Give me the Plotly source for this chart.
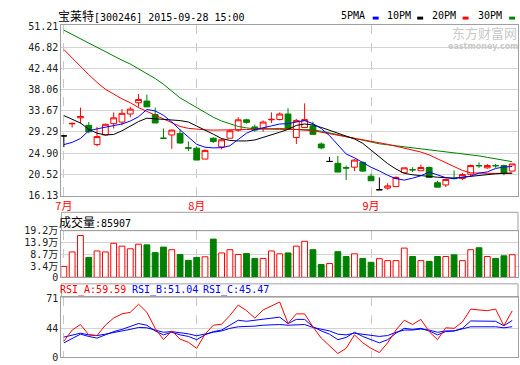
import plotly.graph_objects as go

# ---------------- data ----------------
stock_name = "宝莱特"
stock_code = "300246"
stamp = "2015-09-28 15:00"

month_idx = [0, 16, 37]
month_labels = ["7月", "8月", "9月"]

opens = [28.46, 30.95, 32.20, 30.66, 26.66, 28.66, 31.00, 31.33, 33.00, 35.33,
         35.67, 32.87, 28.00, 28.66, 28.98, 26.02, 25.92, 23.66, 27.98, 26.18,
         27.98, 29.66, 31.79, 30.32, 29.99, 31.80, 31.86, 32.99, 28.12, 30.19,
         30.52, 26.78, 23.17, 22.78, 21.90, 21.98, 22.98, 20.11, 17.31, 17.65,
         17.97, 20.85, 21.47, 21.25, 21.92, 18.77, 18.31, 19.68, 19.65, 20.51,
         22.33, 21.85, 22.33, 22.32, 21.18]
highs = [28.46, 31.20, 34.33, 31.33, 30.32, 31.00, 33.33, 34.00, 34.47, 37.13,
         37.00, 34.33, 30.00, 29.80, 29.80, 27.32, 26.32, 25.66, 28.18, 27.98,
         29.80, 32.33, 31.99, 30.79, 31.66, 33.33, 33.33, 34.19, 31.99, 35.19,
         31.39, 27.12, 24.12, 24.32, 22.32, 23.65, 23.18, 20.65, 19.85, 18.65,
         20.11, 21.85, 21.98, 22.52, 22.12, 19.17, 19.65, 21.32, 20.78, 22.52,
         22.98, 22.65, 22.65, 22.52, 22.72]
lows = [26.12, 30.20, 31.00, 29.00, 26.32, 28.50, 30.00, 30.66, 32.33, 34.47,
        34.47, 31.13, 27.96, 25.78, 26.85, 25.32, 23.46, 23.66, 26.98, 25.66,
        27.98, 29.32, 31.00, 29.32, 29.32, 31.13, 31.66, 29.90, 26.78, 30.12,
        28.70, 25.66, 23.17, 20.97, 19.31, 21.17, 20.97, 19.17, 17.31, 17.31,
        17.97, 20.85, 20.97, 21.25, 19.71, 17.85, 17.85, 19.45, 19.31, 20.11,
        21.85, 21.65, 21.85, 20.31, 21.10]
closes = [28.46, 31.05, 32.47, 29.32, 28.32, 30.86, 32.20, 33.13, 34.00, 36.00,
          34.47, 31.13, 27.96, 29.66, 26.98, 25.92, 23.46, 25.46, 27.32, 27.65,
          29.52, 31.79, 31.26, 29.66, 31.33, 31.88, 32.99, 29.99, 31.67, 31.83,
          28.78, 25.98, 23.17, 20.97, 21.80, 23.45, 21.17, 19.17, 17.31, 18.11,
          19.85, 21.85, 21.43, 21.92, 19.85, 17.85, 19.45, 19.62, 20.45, 22.32,
          22.27, 22.32, 22.27, 20.78, 22.65]

ma5 = [26.66, 27.12, 27.92, 29.52, 29.92, 30.22, 30.53, 30.93, 31.53, 32.43,
       33.93, 33.63, 32.73, 31.33, 29.72, 28.12, 26.72, 26.12, 25.98, 26.02,
       26.42, 27.72, 29.02, 29.76, 30.22, 30.53, 30.93, 30.99, 31.33, 31.63,
       30.99, 29.98, 28.52, 26.72, 24.72, 23.92, 22.92, 21.97, 21.21, 20.31,
       19.61, 19.31, 19.71, 20.21, 20.97, 20.31, 19.81, 19.65, 19.81, 20.11,
       20.77, 21.01, 21.72, 22.02, 22.12]
ma10 = [32.67, 31.93, 31.13, 29.82, 29.02, 28.66, 28.76, 29.52, 30.53, 31.43,
        32.13, 32.03, 31.93, 31.83, 31.63, 31.33, 30.53, 29.72, 28.82, 27.92,
        27.52, 27.42, 27.42, 27.62, 28.12, 28.62, 29.22, 29.82, 30.63, 30.93,
        30.73, 30.22, 29.66, 29.12, 28.42, 27.82, 26.92, 25.52, 24.12, 22.72,
        21.61, 20.71, 20.41, 20.21, 20.01, 19.91, 19.81, 19.71, 19.91, 20.11,
        20.31, 20.51, 20.61, 20.71, 20.77]
ma20 = [46.34, 44.54, 42.74, 41.14, 39.54, 38.13, 37.13, 36.13, 35.33, 34.33,
        33.53, 32.73, 31.93, 31.13, 30.42, 30.02, 29.82, 29.72, 29.66, 29.66,
        29.66, 29.72, 29.78, 29.86, 29.92, 29.98, 29.98, 29.92, 29.82, 29.66,
        29.52, 29.22, 28.92, 28.62, 28.32, 28.02, 27.72, 27.42, 27.12, 26.72,
        26.32, 25.92, 25.52, 25.12, 24.52, 23.72, 22.92, 22.12, 21.31, 20.81,
        20.71, 20.71, 20.71, 20.71, 20.71]
ma30 = [50.35, 49.45, 48.65, 47.75, 46.84, 45.94, 45.04, 44.14, 43.34, 42.34,
        41.34, 40.34, 39.14, 37.73, 36.33, 35.33, 34.33, 33.33, 32.33, 31.53,
        30.93, 30.42, 30.12, 29.92, 29.92, 29.82, 29.82, 29.82, 29.82, 29.82,
        29.72, 29.42, 29.12, 28.72, 28.32, 27.92, 27.52, 27.12, 26.82, 26.62,
        26.42, 26.22, 26.02, 25.82, 25.62, 25.42, 25.22, 25.02, 24.82, 24.62,
        24.32, 24.02, 23.72, 23.42, 23.12]

volume = [34000, 98000, 170600, 73700, 102300, 98000, 136400, 123600, 112000, 132200,
          129300, 95000, 119400, 108000, 86500, 60900, 73700, 76600, 154800, 93700,
          108000, 86500, 90800, 69500, 69500, 102300, 89700, 93700, 123600, 145000,
          108000, 42500, 46800, 99300, 77900, 89700, 69500, 52400, 68200, 59700,
          59700, 115100, 77900, 59700, 56600, 77900, 77900, 85200, 59700, 108000,
          116500, 77900, 69500, 81000, 85907]

rsi_a = [32.5, 42.5, 47.4, 38.2, 37.6, 46.8, 53.2, 56.9, 58.3, 65.5,
         58.3, 44.0, 33.9, 41.7, 34.4, 31.6, 26.2, 38.8, 46.8, 47.7,
         55.5, 64.7, 59.8, 53.2, 60.4, 64.1, 67.5, 48.3, 56.9, 56.9,
         45.4, 35.3, 28.2, 21.6, 26.2, 38.2, 31.1, 26.2, 22.4, 31.1,
         42.5, 51.2, 47.4, 52.0, 41.1, 33.9, 44.5, 44.0, 49.7, 61.2,
         60.4, 59.8, 61.2, 46.3, 59.59]
rsi_b = [31.1, 35.3, 38.8, 36.8, 35.3, 38.2, 41.1, 43.1, 45.4, 48.3,
         46.8, 41.7, 38.2, 40.5, 38.2, 36.8, 33.9, 38.2, 41.1, 42.5,
         46.8, 51.2, 50.3, 51.2, 52.6, 53.5, 54.0, 48.3, 52.0, 52.0,
         45.4, 41.7, 38.8, 33.9, 35.9, 40.5, 36.8, 33.9, 31.1, 33.9,
         39.7, 44.0, 43.1, 44.0, 41.7, 38.2, 41.1, 41.7, 44.0, 50.6,
         50.6, 50.3, 50.3, 46.3, 51.04]
rsi_c = [36.2, 38.2, 39.7, 38.2, 37.6, 38.8, 40.5, 41.7, 43.1, 44.8,
         44.5, 42.5, 40.5, 41.1, 40.2, 39.1, 37.4, 39.1, 40.5, 41.7,
         44.0, 45.4, 45.4, 46.0, 46.8, 47.4, 47.4, 46.8, 47.4, 47.4,
         44.8, 43.1, 41.7, 38.8, 38.2, 39.7, 38.8, 37.6, 36.8, 37.6,
         40.5, 42.5, 42.5, 43.4, 42.5, 40.5, 41.7, 41.7, 43.4, 45.4,
         45.4, 45.4, 45.4, 44.5, 45.47]

price_ticks = [16.13, 20.52, 24.90, 29.29, 33.67, 38.06, 42.44, 46.82, 51.21]
vol_ticks = [3.4, 8.7, 13.9, 19.2]
rsi_ticks = [44, 71]

# ---------------- style ----------------
RED = "#ff0000"
GREEN = "#008000"
BLUE = "#0000ff"
FRAME = "#a0a0a0"
GRID = "#d4d4d4"
MONO = "DejaVu Sans Mono, Noto Sans CJK SC"
W, H = 520, 365


def px(v):
    return v / W


def py(v):
    return 1 - v / H


XDOM = [px(56), px(518)]
Y1DOM = [py(196), py(20)]
Y2DOM = [py(280.5), py(232.3)]
Y3DOM = [py(363), py(301)]
XR = [-0.3, 54.7]
VOL_MIN = -1.38
RSI_MIN = 18.4

n = len(closes)
idx = list(range(n))

fig = go.Figure()


def candle_group(sel, color, fill):
    xs = [i for i in idx if sel(i)]
    return go.Candlestick(
        x=xs,
        open=[opens[i] for i in xs], high=[highs[i] for i in xs],
        low=[lows[i] for i in xs], close=[closes[i] for i in xs],
        increasing=dict(line=dict(color=color, width=1), fillcolor=fill),
        decreasing=dict(line=dict(color=color, width=1), fillcolor=fill),
        whiskerwidth=0, hoverinfo="skip", showlegend=False,
        xaxis="x", yaxis="y")


fig.add_trace(candle_group(lambda i: closes[i] > opens[i], RED, "white"))
fig.add_trace(candle_group(lambda i: closes[i] < opens[i], GREEN, GREEN))
fig.add_trace(candle_group(lambda i: closes[i] == opens[i], "black", "black"))

for vals, col in [(ma30, GREEN), (ma20, RED), (ma10, "black"), (ma5, BLUE)]:
    fig.add_trace(go.Scatter(x=idx, y=vals, mode="lines",
                             line=dict(color=col, width=1), hoverinfo="skip",
                             showlegend=False, xaxis="x", yaxis="y"))

# volume
up = [closes[i] >= opens[i] for i in idx]
vol_w = [v / 1e4 for v in volume]
fig.add_trace(go.Bar(
    x=idx, y=[v - VOL_MIN for v in vol_w], base=VOL_MIN, width=0.7,
    marker=dict(color=["white" if u else GREEN for u in up],
                line=dict(color=[RED if u else GREEN for u in up], width=1)),
    hoverinfo="skip", showlegend=False, xaxis="x2", yaxis="y2"))

# RSI
for vals, col in [(rsi_c, BLUE), (rsi_b, BLUE), (rsi_a, RED)]:
    fig.add_trace(go.Scatter(x=idx, y=vals, mode="lines",
                             line=dict(color=col, width=1), hoverinfo="skip",
                             showlegend=False, xaxis="x3", yaxis="y3"))

xcommon = dict(domain=XDOM, range=XR, tickvals=month_idx, showgrid=True,
               gridcolor="#c8c8c8", griddash="dash", gridwidth=1,
               showline=True, mirror=True, linecolor=FRAME, linewidth=1,
               zeroline=False, ticks="", fixedrange=True)
ycommon = dict(showgrid=True, gridcolor=GRID, gridwidth=1, showline=True,
               mirror=True, linecolor=FRAME, linewidth=1, zeroline=False,
               ticks="", fixedrange=True,
               tickfont=dict(family=MONO, size=10, color="#222"))

fig.update_layout(
    width=W, height=H, autosize=False,
    margin=dict(l=0, r=0, t=0, b=0),
    paper_bgcolor="white", plot_bgcolor="white",
    boxgap=0.3, boxgroupgap=0,
    xaxis=dict(**xcommon, anchor="y", ticktext=month_labels,
               tickfont=dict(family="Noto Sans CJK SC", size=11, color=RED),
               rangeslider=dict(visible=False)),
    yaxis=dict(**ycommon, domain=Y1DOM, anchor="x", range=[16.11, 51.35],
               tickvals=price_ticks, tickformat=".2f"),
    xaxis2=dict(**xcommon, anchor="y2", showticklabels=False),
    yaxis2=dict(**ycommon, domain=Y2DOM, anchor="x2", range=[VOL_MIN, 19.2],
                tickvals=[VOL_MIN] + vol_ticks,
                ticktext=["0"] + [f"{t}万" for t in vol_ticks]),
    xaxis3=dict(**xcommon, anchor="y3", showticklabels=False),
    yaxis3=dict(**ycommon, domain=Y3DOM, anchor="x3", range=[RSI_MIN, 71.86],
                tickvals=[RSI_MIN] + rsi_ticks,
                ticktext=["0"] + [str(t) for t in rsi_ticks]),
)

shapes = []
# header boxes for sub panels
for y0, y1 in [(232.3, 213.3), (301, 287.3)]:
    shapes.append(dict(type="rect", xref="paper", yref="paper",
                       x0=XDOM[0], x1=XDOM[1], y0=py(y0), y1=py(y1),
                       line=dict(color=FRAME, width=1), fillcolor="rgba(0,0,0,0)"))

ann = []


def text(x, y, s, color="black", size=10, family=MONO, xanchor="left"):
    ann.append(dict(x=px(x), y=py(y), xref="paper", yref="paper", text=s,
                    showarrow=False, xanchor=xanchor, yanchor="middle",
                    borderpad=0,
                    font=dict(family=family, size=size, color=color)))


cjk = '<span style="font-family:Noto Sans CJK SC;font-size:12px">{}</span>'
text(52, 10, cjk.format(stock_name) + f"[{stock_code}] {stamp}")

legend_items = [("5PMA", BLUE, 338, 371), ("10PM", "black", 384, 416),
                ("20PM", RED, 430, 462), ("30PM", GREEN, 476, 509)]
for lab, col, tx, dx in legend_items:
    text(tx, 10, lab)
    shapes.append(dict(type="rect", xref="paper", yref="paper",
                       x0=px(dx), x1=px(dx + 6), y0=py(14), y1=py(11),
                       line=dict(width=0), fillcolor=col))

# watermark
text(484, 27.5, "东方财富网", color="#c9c9c9", size=13,
     family="Noto Sans CJK SC", xanchor="center")
text(483, 41.5, "<b>eastmoney.com</b>", color="#c9c9c9", size=8,
     family="DejaVu Sans", xanchor="center")

text(53, 223, cjk.format("成交量") + f":{volume[-1]}")
text(54, 294, f"RSI_A:{rsi_a[-1]:.2f}", color=RED)
text(126, 294, f"RSI_B:{rsi_b[-1]:.2f}", color=BLUE)
text(198, 294, f"RSI_C:{rsi_c[-1]:.2f}", color=BLUE)

fig.update_layout(shapes=shapes, annotations=ann)
fig.write_html(
    "out.html",
    config={"displayModeBar": False, "staticPlot": True},
    post_script="document.body.style.margin='0px';"
                "document.documentElement.style.overflow='hidden';",
)
